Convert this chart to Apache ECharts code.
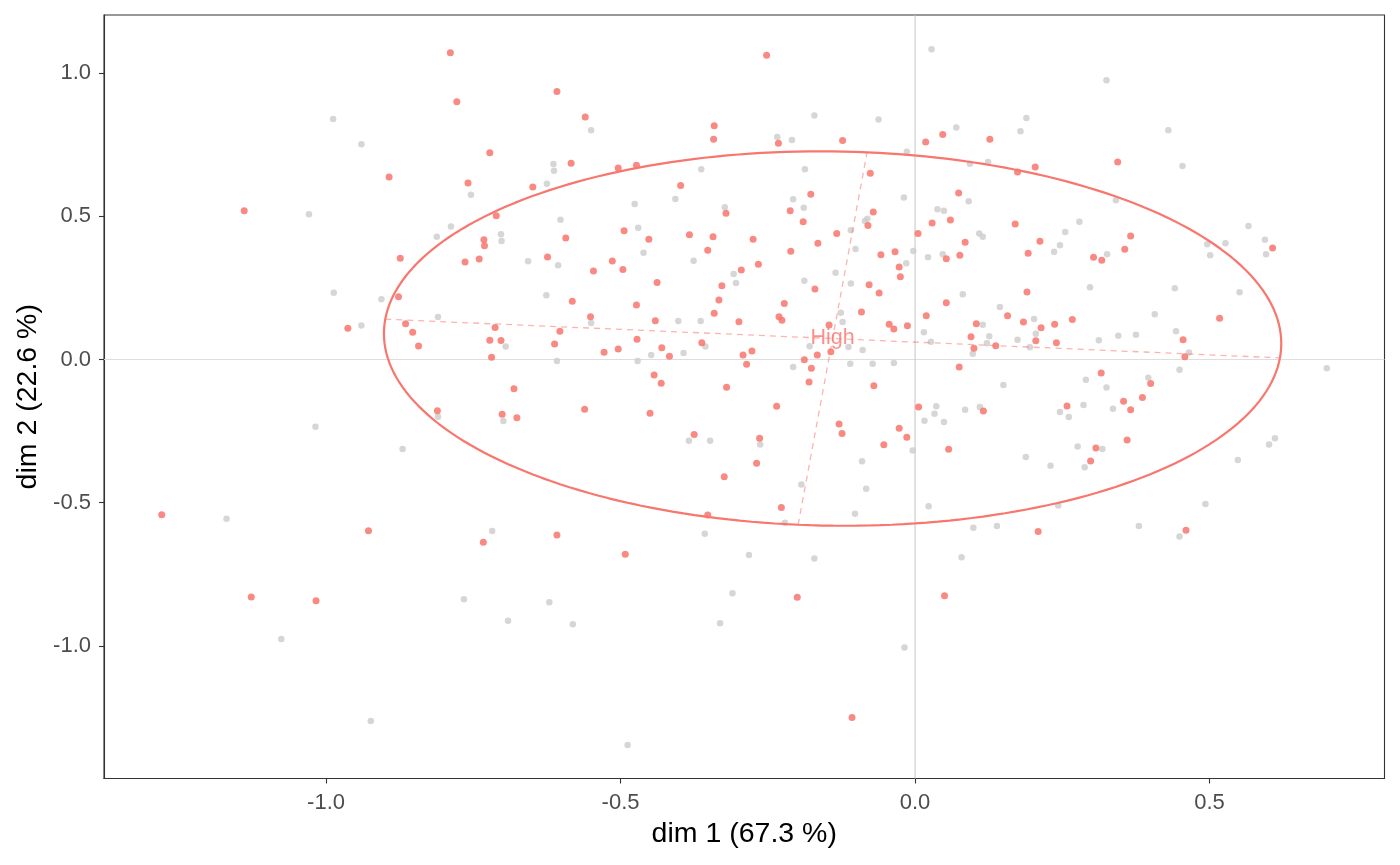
<!DOCTYPE html>
<html><head><meta charset="utf-8">
<script src="https://cdn.jsdelivr.net/npm/echarts@6/dist/echarts.min.js"></script>
<style>html,body{margin:0;padding:0;background:#fff}#c{width:1400px;height:865px}</style>
</head><body><div id="c"></div>
<script>
const xTicks = [-1, -0.5, 0, 0.5];
const yTicks = [-1, -0.5, 0, 0.5, 1];
const xRange = [-1.377, 0.797];
const yRange = [-1.4625, 1.2024];
const xTitle = 'dim 1 (67.3 %)';
const yTitle = 'dim 2 (22.6 %)';
const groupLabel = 'High';
const ellipseCenter = [-0.140, 0.0731];
const ellipseAxisA = [0.7595, -0.0675];
const ellipseAxisB = [0.0585, 0.650];

const greyPts = [
[-0.988,0.839],[-0.940,0.751],[-1.029,0.507],[-0.550,0.800],[-0.614,0.682],[-0.613,0.659],[-0.363,0.664],[-0.754,0.575],[-0.625,0.613],[-0.407,0.560],[-0.476,0.543],[-0.323,0.531],[-0.602,0.488],[-0.788,0.464],[-0.470,0.460],[-0.812,0.428],[-0.703,0.437],[-0.702,0.414],[-0.461,0.373],[-0.376,0.345],[-0.657,0.343],[-0.606,0.329],[0.028,1.083],[-0.171,0.852],[-0.062,0.838],[-0.234,0.777],[-0.209,0.766],[-0.014,0.725],[0.070,0.810],[0.179,0.797],[0.189,0.843],[0.093,0.683],[0.124,0.689],[-0.187,0.664],[-0.207,0.559],[-0.189,0.530],[-0.085,0.483],[-0.081,0.491],[-0.019,0.565],[0.091,0.552],[0.038,0.524],[0.049,0.519],[-0.109,0.451],[-0.101,0.386],[-0.003,0.379],[-0.015,0.336],[0.022,0.357],[0.047,0.367],[0.109,0.440],[0.115,0.428],[0.236,0.376],[0.246,0.399],[0.255,0.445],[0.325,0.975],[0.430,0.800],[0.454,0.675],[0.341,0.556],[0.279,0.481],[0.326,0.367],[0.496,0.402],[0.527,0.406],[0.501,0.364],[0.566,0.466],[0.594,0.418],[0.596,0.367],
[-0.987,0.233],[-0.906,0.210],[-0.940,0.119],[-1.018,-0.235],[-0.870,-0.312],[-1.169,-0.556],
[-0.308,0.298],[-0.304,0.267],[-0.626,0.224],[-0.810,0.148],[-0.550,0.127],[-0.402,0.134],[-0.364,0.134],[-0.695,0.045],[-0.356,0.045],[-0.448,0.016],[-0.393,0.023],[-0.608,-0.005],[-0.471,-0.005],[-0.810,-0.200],[-0.699,-0.215],[-0.384,-0.284],[-0.348,-0.284],
[-0.135,0.303],[-0.188,0.275],[-0.109,0.265],[-0.126,0.163],[-0.123,0.131],[0.081,0.228],[0.144,0.183],[0.202,0.141],[0.115,0.121],[0.205,0.090],[0.174,0.069],[0.126,0.081],[0.122,0.057],[0.098,0.020],[0.015,0.095],[0.027,0.062],[0.195,0.043],[-0.179,0.046],[-0.113,0.044],[-0.089,0.033],[-0.207,-0.026],[-0.110,-0.015],[-0.072,-0.015],[-0.036,-0.012],[0.150,-0.089],[0.036,-0.163],[0.033,-0.189],[0.085,-0.175],[0.110,-0.166],[0.016,-0.214],[0.049,-0.218],[0.246,-0.183],[-0.263,-0.297],[-0.004,-0.318],[-0.090,-0.355],[0.188,-0.340],[0.230,-0.371],[-0.193,-0.436],[-0.083,-0.451],[-0.102,-0.538],[0.023,-0.512],[0.243,-0.510],[-0.221,-0.570],[0.099,-0.587],[0.139,-0.581],
[0.297,0.252],[0.441,0.249],[0.551,0.235],[0.407,0.158],[0.312,0.067],[0.345,0.083],[0.375,0.086],[0.443,0.099],[0.465,0.024],[0.449,-0.036],[0.699,-0.031],[0.290,-0.071],[0.325,-0.098],[0.396,-0.064],[0.336,-0.172],[0.286,-0.159],[0.261,-0.201],[0.318,-0.312],[0.276,-0.304],[0.288,-0.376],[0.611,-0.275],[0.601,-0.297],[0.548,-0.351],[0.493,-0.504],[0.380,-0.581],[0.449,-0.618],
[-1.076,-0.976],[-0.924,-1.262],
[-0.718,-0.599],[-0.357,-0.608],[-0.310,-0.816],[-0.766,-0.837],[-0.621,-0.847],[-0.691,-0.912],[-0.581,-0.924],[-0.331,-0.921],[-0.488,-1.346],
[-0.282,-0.682],[-0.171,-0.695],[-0.018,-1.005],[0.079,-0.690]
];

const redPts = [
[-0.893,0.637],[-1.139,0.519],[-0.874,0.353],[-0.789,1.071],[-0.778,0.900],[-0.608,0.935],[-0.560,0.846],[-0.341,0.816],[-0.342,0.769],[-0.722,0.722],[-0.584,0.685],[-0.504,0.668],[-0.473,0.678],[-0.759,0.616],[-0.649,0.602],[-0.398,0.607],[-0.321,0.510],[-0.711,0.502],[-0.732,0.418],[-0.731,0.397],[-0.593,0.424],[-0.494,0.449],[-0.452,0.420],[-0.383,0.435],[-0.343,0.428],[-0.352,0.381],[-0.764,0.340],[-0.740,0.351],[-0.624,0.358],[-0.514,0.344],[-0.546,0.309],[-0.496,0.314],[-0.295,0.312],
[-0.252,1.062],[-0.232,0.755],[-0.123,0.764],[0.018,0.759],[0.047,0.785],[0.127,0.769],[0.174,0.654],[0.204,0.672],[-0.076,0.650],[-0.177,0.577],[-0.212,0.519],[-0.190,0.481],[-0.071,0.515],[-0.080,0.468],[0.074,0.581],[0.029,0.476],[0.060,0.487],[0.170,0.473],[-0.275,0.420],[-0.211,0.378],[-0.165,0.406],[-0.133,0.440],[-0.058,0.366],[-0.034,0.376],[0.005,0.440],[-0.027,0.323],[-0.266,0.332],[0.053,0.352],[0.076,0.364],[0.085,0.409],[0.212,0.413],[0.192,0.371],
[0.344,0.689],[0.366,0.431],[0.356,0.385],[0.303,0.357],[0.317,0.346],[0.607,0.389],
[-0.877,0.219],[-0.963,0.109],[-0.865,0.125],[-0.853,0.095],[-0.843,0.047],[-1.279,-0.542],
[-0.438,0.269],[-0.328,0.257],[-0.333,0.208],[-0.341,0.161],[-0.299,0.132],[-0.582,0.203],[-0.473,0.190],[-0.551,0.149],[-0.441,0.135],[-0.713,0.112],[-0.603,0.099],[-0.722,0.067],[-0.703,0.066],[-0.612,0.054],[-0.472,0.071],[-0.362,0.058],[-0.430,0.041],[-0.528,0.025],[-0.504,0.037],[-0.417,0.011],[-0.292,0.016],[-0.719,0.008],[-0.681,-0.102],[-0.443,-0.054],[-0.431,-0.083],[-0.320,-0.097],[-0.811,-0.179],[-0.701,-0.191],[-0.676,-0.203],[-0.561,-0.174],[-0.450,-0.188],[-0.375,-0.262],[-0.324,-0.409],[-0.352,-0.543],
[-0.025,0.289],[-0.078,0.261],[-0.061,0.232],[-0.170,0.246],[-0.222,0.195],[-0.231,0.149],[-0.226,0.137],[-0.091,0.166],[-0.146,0.120],[-0.044,0.123],[-0.036,0.106],[-0.013,0.118],[0.019,0.153],[0.053,0.198],[0.190,0.236],[0.157,0.153],[0.184,0.131],[0.104,0.125],[0.214,0.111],[0.237,0.123],[0.205,0.065],[0.240,0.058],[0.137,0.048],[0.100,0.039],[0.095,0.079],[0.075,-0.026],[-0.143,0.027],[-0.166,0.016],[-0.277,0.030],[-0.286,-0.017],[-0.188,-0.001],[-0.176,-0.031],[-0.180,-0.079],[-0.070,-0.092],[-0.235,-0.163],[0.006,-0.166],[0.116,-0.180],[0.258,-0.162],[-0.129,-0.225],[-0.124,-0.258],[-0.027,-0.240],[-0.014,-0.271],[-0.264,-0.275],[-0.053,-0.298],[0.057,-0.313],[-0.269,-0.362],[-0.227,-0.517],[0.209,-0.600],
[0.267,0.140],[0.517,0.144],[0.455,0.069],[0.458,0.010],[0.316,-0.047],[0.400,-0.084],[0.386,-0.133],[0.354,-0.146],[0.366,-0.175],[0.360,-0.281],[0.307,-0.309],[0.298,-0.354],[0.460,-0.596],
[-0.928,-0.598],[-1.127,-0.829],[-1.017,-0.842],
[-0.733,-0.638],[-0.608,-0.613],[-0.492,-0.680],
[-0.200,-0.830],[-0.107,-1.250],[0.050,-0.825]
];

const ellipsePts = [];
for (let i = 0; i <= 240; i++) {
  const t = 2 * Math.PI * i / 240;
  ellipsePts.push([
    ellipseCenter[0] + ellipseAxisA[0] * Math.cos(t) + ellipseAxisB[0] * Math.sin(t),
    ellipseCenter[1] + ellipseAxisA[1] * Math.cos(t) + ellipseAxisB[1] * Math.sin(t)
  ]);
}
const majorAxis = [[ellipseCenter[0] - ellipseAxisA[0], ellipseCenter[1] - ellipseAxisA[1]], [ellipseCenter[0] + ellipseAxisA[0], ellipseCenter[1] + ellipseAxisA[1]]];
const minorAxis = [[ellipseCenter[0] - ellipseAxisB[0], ellipseCenter[1] - ellipseAxisB[1]], [ellipseCenter[0] + ellipseAxisB[0], ellipseCenter[1] + ellipseAxisB[1]]];

const FONT = '"Liberation Sans", Arial, Helvetica, sans-serif';
const RED = '#F8766D';
const chart = echarts.init(document.getElementById('c'), null, {renderer: 'canvas'});
chart.setOption({
  animation: false,
  backgroundColor: '#ffffff',
  grid: {left: 104, right: 15.5, top: 15, bottom: 86.5, show: true, borderColor: '#333333', borderWidth: 1.1, backgroundColor: 'transparent'},
  xAxis: {
    type: 'value', min: xRange[0], max: xRange[1],
    splitLine: {show: false},
    axisLine: {show: true, onZero: false, lineStyle: {color: '#333333', width: 1.1}},
    axisTick: {show: true, customValues: xTicks, length: 5, lineStyle: {color: '#333333', width: 1.1}},
    axisLabel: {customValues: xTicks, formatter: v => v.toFixed(1), color: '#4d4d4d', fontSize: 22, fontFamily: FONT, margin: 13},
    name: xTitle, nameLocation: 'middle', nameGap: 41,
    nameTextStyle: {color: '#000000', fontSize: 28.5, fontFamily: FONT}
  },
  yAxis: {
    type: 'value', min: yRange[0], max: yRange[1],
    splitLine: {show: false},
    axisLine: {show: true, onZero: false, lineStyle: {color: '#333333', width: 1.1}},
    axisTick: {show: true, customValues: yTicks, length: 5, lineStyle: {color: '#333333', width: 1.1}},
    axisLabel: {customValues: yTicks, formatter: v => v.toFixed(1), color: '#4d4d4d', fontSize: 22, fontFamily: FONT, margin: 13},
    name: yTitle, nameLocation: 'middle', nameGap: 60, nameRotate: 90,
    nameTextStyle: {color: '#000000', fontSize: 28.5, fontFamily: FONT}
  },
  series: [
    {type: 'line', data: [[xRange[0], 0], [xRange[1], 0]], symbol: 'none', silent: true, lineStyle: {color: '#dedede', width: 1}, z: 1},
    {type: 'line', data: [[0, yRange[0]], [0, yRange[1]]], symbol: 'none', silent: true, lineStyle: {color: '#c4c4c4', width: 1}, z: 1},
    {type: 'scatter', data: greyPts, symbolSize: 6.5, itemStyle: {color: '#cccccc', opacity: 0.8}, silent: true, z: 2},
    {type: 'scatter', data: redPts, symbolSize: 7, itemStyle: {color: RED, opacity: 0.85}, silent: true, z: 3},
    {type: 'line', data: ellipsePts, symbol: 'none', smooth: false, silent: true, lineStyle: {color: RED, width: 2.2}, z: 4},
    {type: 'line', data: majorAxis, symbol: 'none', silent: true, lineStyle: {color: RED, width: 1.3, opacity: 0.55, type: [6, 5]}, z: 4},
    {type: 'line', data: minorAxis, symbol: 'none', silent: true, lineStyle: {color: RED, width: 1.3, opacity: 0.55, type: [6, 5]}, z: 4},
    {type: 'scatter', data: [ellipseCenter], symbolSize: 0, silent: true, z: 5,
      label: {show: true, position: 'inside', formatter: groupLabel, color: RED, fontSize: 21.5, fontFamily: FONT}}
  ]
});
</script>
</body></html>
